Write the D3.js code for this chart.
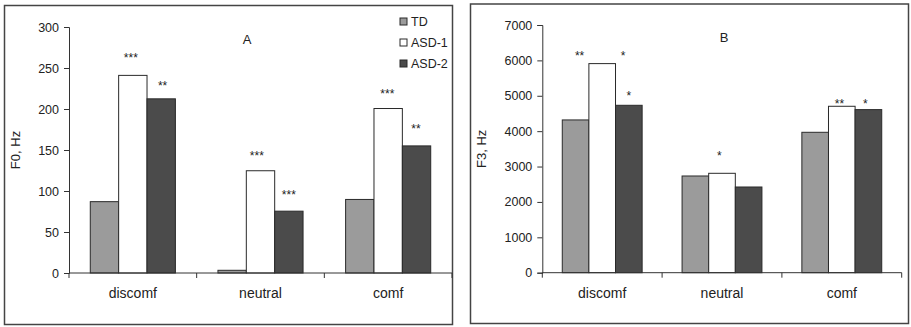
<!DOCTYPE html>
<html>
<head>
<meta charset="utf-8">
<script src="https://cdn.jsdelivr.net/npm/d3@7"></script>
<style>
  body { margin: 0; background: #fff; }
  text { font-family: "Liberation Sans", Arial, sans-serif; fill: #222; }
</style>
</head>
<body>
<svg id="chart" width="911" height="327"></svg>
<script>
// categories and groups shared by both panels
const categories = ["discomf", "neutral", "comf"];
const groups = ["TD", "ASD-1", "ASD-2"];
const groupColors = ["#9b9b9b", "#ffffff", "#4b4b4b"];

// panel A: F0 (Hz)
const f0TD = [87, 3.3, 89.7];
const f0ASD1 = [241, 124.7, 200.6];
const f0ASD2 = [212.4, 75.4, 155];
const f0Ticks = [0, 50, 100, 150, 200, 250, 300];
// significance stars: [category, group, label, height in data units, shift in bar widths]
const f0Stars = [
  ["discomf", "ASD-1", "***", 266, -0.07],
  ["discomf", "ASD-2", "**", 231.6, 0.05],
  ["neutral", "ASD-1", "***", 146, -0.13],
  ["neutral", "ASD-2", "***", 98.2, 0],
  ["comf", "ASD-1", "***", 222, -0.03],
  ["comf", "ASD-2", "**", 179.4, -0.02]
];

// panel B: F3 (Hz)
const f3TD = [4317, 2733, 3968];
const f3ASD1 = [5909, 2809, 4703];
const f3ASD2 = [4731, 2422, 4609];
const f3Ticks = [0, 1000, 2000, 3000, 4000, 5000, 6000, 7000];
const f3Stars = [
  ["discomf", "TD", "**", 6202, 0.15],
  ["discomf", "ASD-2", "*", 6202, -0.22],
  ["discomf", "ASD-2", "*", 5071, 0],
  ["neutral", "ASD-1", "*", 3393, -0.1],
  ["comf", "ASD-1", "**", 4854, -0.09],
  ["comf", "ASD-2", "*", 4854, -0.12]
];

const svg = d3.select("#chart");

function drawPanel(opt) {
  const g = svg.append("g");

  // outer frame
  g.append("rect")
    .attr("x", opt.frame[0]).attr("y", opt.frame[1])
    .attr("width", opt.frame[2]).attr("height", opt.frame[3])
    .attr("fill", "none").attr("stroke", "#444").attr("stroke-width", 1.5);

  const x = d3.scaleBand().domain(categories)
    .range([opt.left, opt.right]).paddingInner(1 / 3).paddingOuter(1 / 6);
  const xs = d3.scaleBand().domain(groups).range([0, x.bandwidth()]);
  const y = d3.scaleLinear().domain([0, d3.max(opt.ticks)]).range([opt.bottom, opt.top]);

  const rows = [];
  categories.forEach((c, i) => {
    opt.series.forEach((s, j) => rows.push({ cat: c, grp: groups[j], val: s[i], col: groupColors[j] }));
  });

  g.selectAll("rect.bar").data(rows).enter().append("rect")
    .attr("class", "bar")
    .attr("x", d => x(d.cat) + xs(d.grp))
    .attr("y", d => y(d.val))
    .attr("width", xs.bandwidth())
    .attr("height", d => y(0) - y(d.val))
    .attr("fill", d => d.col)
    .attr("stroke", "#2a2a2a").attr("stroke-width", 1);

  // y axis
  const ya = g.append("g")
    .attr("transform", `translate(${opt.left},0)`)
    .call(d3.axisLeft(y).tickValues(opt.ticks).tickSize(5).tickFormat(d3.format("d")));
  ya.select(".domain").attr("stroke", "#333");
  ya.selectAll(".tick line").attr("stroke", "#333");
  ya.selectAll("text").style("font-size", "12.5px").attr("fill", "#222").attr("dx", "-2");

  // x axis with ticks at category boundaries
  const xa = g.append("g").attr("transform", `translate(0,${opt.bottom})`);
  xa.append("line").attr("x1", opt.left).attr("x2", opt.right)
    .attr("stroke", "#333");
  const bounds = [opt.left].concat(categories.map(c => x(c) - x.step() * x.paddingOuter() + x.step()));
  xa.selectAll("line.tk").data(bounds).enter().append("line")
    .attr("class", "tk").attr("x1", d => d).attr("x2", d => d)
    .attr("y1", 0).attr("y2", 5).attr("stroke", "#333");
  xa.selectAll("text").data(categories).enter().append("text")
    .attr("x", d => x(d) + x.bandwidth() / 2).attr("y", 25)
    .attr("text-anchor", "middle").style("font-size", "14px")
    .text(d => d);

  // y label
  g.append("text")
    .attr("transform", `translate(${opt.frame[0] + 15},${(opt.top + opt.bottom) / 2}) rotate(-90)`)
    .attr("text-anchor", "middle").style("font-size", "13px")
    .text(opt.yLabel);

  // panel letter
  g.append("text").attr("x", opt.letterX).attr("y", opt.top + 17)
    .attr("text-anchor", "middle").style("font-size", "13px").text(opt.letter);

  // stars
  g.selectAll("text.star").data(opt.stars).enter().append("text")
    .attr("class", "star")
    .attr("x", d => x(d[0]) + xs(d[1]) + xs.bandwidth() * (0.5 + d[4]))
    .attr("y", d => y(d[3]) + 7)
    .attr("text-anchor", "middle").style("font-size", "12px").attr("fill", "#444")
    .text(d => d[2]);
}

drawPanel({
  frame: [4.5, 5.5, 448, 319],
  left: 69, right: 452, top: 27, bottom: 273,
  ticks: f0Ticks, series: [f0TD, f0ASD1, f0ASD2],
  yLabel: "F0, Hz", letter: "A", letterX: 247, stars: f0Stars
});

drawPanel({
  frame: [470.5, 4, 438, 319.5],
  left: 542.3, right: 901.7, top: 25, bottom: 272.7,
  ticks: f3Ticks, series: [f3TD, f3ASD1, f3ASD2],
  yLabel: "F3, Hz", letter: "B", letterX: 724, stars: f3Stars
});

// legend for panel A
const legend = svg.append("g").attr("transform", "translate(400,18)");
groups.forEach((name, i) => {
  const row = legend.append("g").attr("transform", `translate(0,${i * 21})`);
  row.append("rect").attr("x", 0).attr("y", 0).attr("width", 7).attr("height", 7)
    .attr("fill", groupColors[i]).attr("stroke", "#2a2a2a").attr("stroke-width", 1);
  row.append("text").attr("x", 11).attr("y", 8).style("font-size", "12.5px").text(name);
});
</script>
</body>
</html>
